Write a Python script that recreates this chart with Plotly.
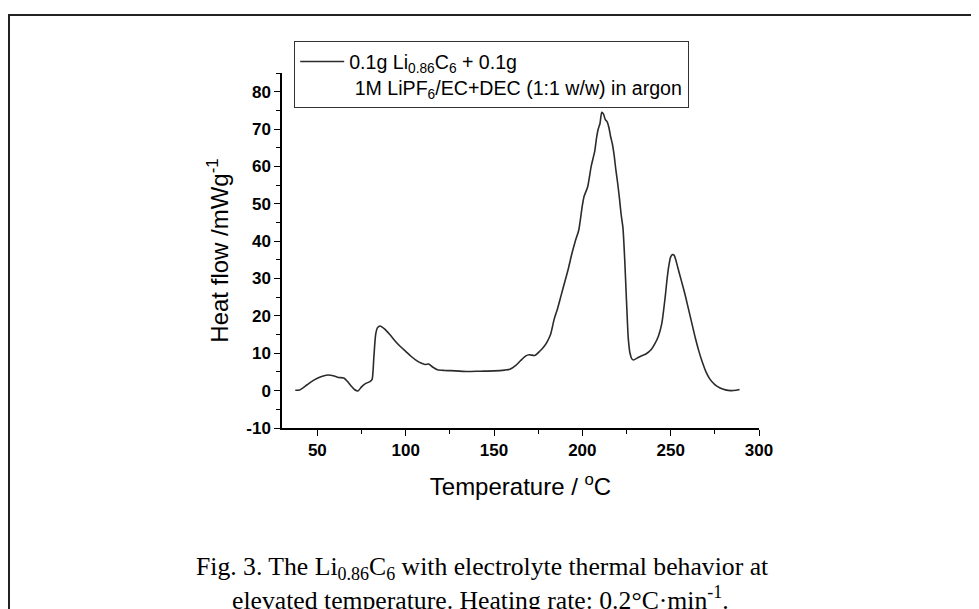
import plotly.graph_objects as go

# DSC trace
temperature = [
    37.5, 40, 44, 48, 52, 56, 59, 62, 65, 67, 69, 71, 73, 75, 77, 80, 81, 82, 83, 84,
    85.5, 88, 91, 94, 97, 100, 103, 106, 109, 111, 113, 115, 118, 122, 128, 135, 142,
    150, 156, 159, 162, 165, 168, 170, 173, 176, 178, 180, 182, 184, 186, 188, 190,
    192, 194, 196, 198, 200, 201, 203, 205, 206, 207, 208, 209, 210, 211, 212, 213,
    214, 215, 216, 217, 218, 219, 220, 221, 222, 223, 224, 225, 226, 227, 228, 229,
    231, 233, 236, 239, 241, 243, 245, 246, 247, 248, 249, 250, 251, 252, 253, 254,
    256, 258, 260, 262, 264, 266, 268, 270, 272, 275, 278, 281, 284, 287, 289,
]
heat_flow = [
    0.1, 0.2, 1.5, 2.8, 3.7, 4.2, 4.0, 3.5, 3.4, 2.5, 1.3, 0.3, -0.1, 1.0, 1.8, 2.5,
    3.0, 9.0, 15.0, 16.8, 17.3, 16.5, 15.0, 13.3, 11.8, 10.5, 9.2, 8.1, 7.3, 7.0, 7.1,
    6.4, 5.6, 5.4, 5.3, 5.1, 5.2, 5.3, 5.5, 5.7, 6.6, 8.0, 9.3, 9.6, 9.4, 10.6, 11.6,
    13.0, 15.0, 19.0, 22.0, 25.5, 29.0, 32.5, 36.5, 40.0, 43.0, 49.5, 52.0, 54.5,
    60.0, 62.0, 64.0, 67.5, 70.0, 71.5, 74.5, 74.0, 72.5, 72.0, 70.5, 68.0, 66.0,
    63.0, 59.0, 55.5, 51.5, 47.0, 43.5, 35.0, 24.0, 14.0, 10.0, 8.5, 8.2, 8.7, 9.2,
    9.8, 11.0, 12.5, 14.5, 18.0, 21.5, 25.5, 30.0, 33.5, 35.8, 36.4, 36.2, 34.8,
    33.0, 29.5, 26.0, 22.0, 18.0, 14.0, 10.5, 7.5, 5.0, 3.2, 1.6, 0.7, 0.2, 0.0,
    0.1, 0.3,
]

x_ticks = [50, 100, 150, 200, 250, 300]
y_ticks = [-10, 0, 10, 20, 30, 40, 50, 60, 70, 80]
y_ticktext = ["-10", "0", "10", "20", "30", "40", "50", "60", "70", "80"]

series_name = (
    "0.1g Li<sub>0.86</sub>C<sub>6</sub> + 0.1g<br>"
    " 1M LiPF<sub>6</sub>/EC+DEC (1:1 w/w) in argon"
)
caption_lines = [
    "Fig. 3. The Li<sub>0.86</sub>C<sub>6</sub> with electrolyte thermal behavior at",
    "elevated temperature. Heating rate: 0.2°C·min<sup>-1</sup>.",
]

sans = "Liberation Sans, Arial"
tick_font = dict(family=sans, size=17, color="black", weight="bold")

# plot area in page pixels (the page adds an 8 px body margin)
PX_L, PX_R, PX_T, PX_B = 282, 759, 73, 428


def px_x(p):
    return (p - PX_L) / (PX_R - PX_L)


def px_y(p):
    return (PX_B - p) / (PX_B - PX_T)


fig = go.Figure(
    go.Scatter(
        x=temperature,
        y=heat_flow,
        mode="lines",
        name=series_name,
        line=dict(color="#2b2b2b", width=1.6, shape="spline", smoothing=0.6),
    )
)

fig.update_layout(
    width=979,
    height=609,
    margin=dict(l=PX_L - 8, r=979 - (PX_R - 8), t=PX_T - 8, b=609 - (PX_B - 8)),
    paper_bgcolor="white",
    plot_bgcolor="white",
    font=dict(family=sans, color="black"),
    showlegend=True,
    legend=dict(
        x=px_x(294),
        y=px_y(41),
        xanchor="left",
        yanchor="top",
        bordercolor="#333",
        borderwidth=1.2,
        bgcolor="white",
        valign="top",
        font=dict(family=sans, size=19.6, color="black"),
        itemwidth=44,
    ),
    xaxis=dict(
        range=[30, 300],
        tickvals=x_ticks,
        ticks="outside",
        ticklen=6,
        tickwidth=1.3,
        tickcolor="black",
        showline=True,
        linecolor="black",
        linewidth=1.5,
        showgrid=False,
        zeroline=False,
        tickfont=tick_font,
        minor=dict(dtick=25, tick0=25, ticks="outside", ticklen=4, tickcolor="black"),
        title=dict(
            text="Temperature / <sup>o</sup>C",
            font=dict(size=24, family=sans, color="black"),
            standoff=19,
        ),
    ),
    yaxis=dict(
        range=[-10, 85],
        tickvals=y_ticks,
        ticktext=y_ticktext,
        ticks="outside",
        ticklen=6,
        tickwidth=1.3,
        tickcolor="black",
        showline=True,
        linecolor="black",
        linewidth=1.5,
        showgrid=False,
        zeroline=False,
        tickfont=tick_font,
        minor=dict(dtick=5, tick0=-5, ticks="outside", ticklen=4, tickcolor="black"),
        title=dict(
            text="Heat flow /mWg<sup>-1</sup>",
            font=dict(size=24, family=sans, color="black"),
            standoff=11,
        ),
    ),
)

# outer frame of the page, partly cut off by the picture edge
fig.add_shape(
    type="rect",
    xref="paper",
    yref="paper",
    x0=px_x(9),
    x1=px_x(1010),
    y0=px_y(640),
    y1=px_y(15),
    line=dict(color="#222", width=2),
    layer="below",
)

# figure caption, one annotation per line
for text, cx, cy in zip(caption_lines, [482, 480], [568, 598]):
    fig.add_annotation(
        text=text,
        xref="paper",
        yref="paper",
        x=px_x(cx),
        y=px_y(cy),
        xanchor="center",
        yanchor="middle",
        showarrow=False,
        font=dict(family="Liberation Serif, Times New Roman", size=25.7, color="black"),
    )

fig.write_html("out.html")
